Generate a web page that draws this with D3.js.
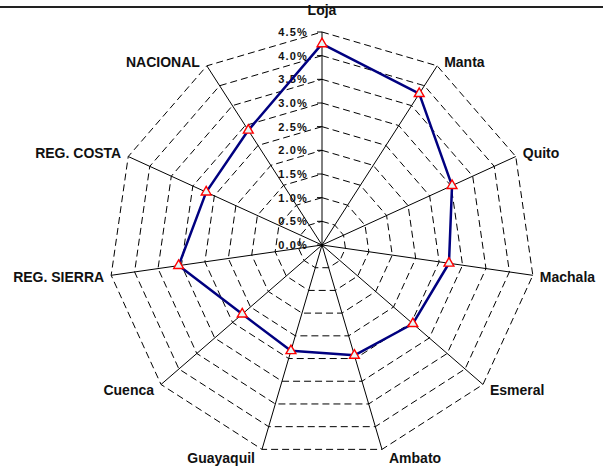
<!DOCTYPE html>
<html>
<head>
<meta charset="utf-8">
<script src="https://cdn.jsdelivr.net/npm/d3@7"></script>
<style>
  html, body { margin: 0; padding: 0; background: #fff; }
  svg { display: block; font-family: "Liberation Sans", Arial, sans-serif; }
</style>
</head>
<body>
<svg id="chart" width="603" height="466"></svg>
<script>
// Radar: one series across cities and regional aggregates
const categories = ["Loja", "Manta", "Quito", "Machala", "Esmeral", "Ambato",
                    "Guayaquil", "Cuenca", "REG. SIERRA", "REG. COSTA", "NACIONAL"];
const values = [4.25, 3.80, 3.02, 2.71, 2.54, 2.43, 2.33, 2.23, 3.06, 2.69, 2.88];
const tickValues = [0, 0.5, 1, 1.5, 2, 2.5, 3, 3.5, 4, 4.5];
const tickLabels = ["0.0%", "0.5%", "1.0%", "1.5%", "2.0%", "2.5%", "3.0%", "3.5%", "4.0%", "4.5%"];

const svg = d3.select("#chart");
const W = 603, H = 466;
const cx = 322, cy = 245, R = 213;

const r = d3.scaleLinear().domain([0, 4.5]).range([0, R]);
const angle = d3.scalePoint().domain(categories).range([0, 2 * Math.PI * (categories.length) / categories.length])
  .padding(0);
// scalePoint with full circle: use index-based step so the last point doesn't wrap onto the first
const step = 2 * Math.PI / categories.length;
const ang = c => categories.indexOf(c) * step;
const px = (c, v) => cx + Math.sin(ang(c)) * r(v);
const py = (c, v) => cy - Math.cos(ang(c)) * r(v);

// top frame line
svg.append("line")
  .attr("x1", 0).attr("x2", W).attr("y1", 7).attr("y2", 7)
  .attr("stroke", "#222").attr("stroke-width", 2);

const g = svg.append("g");

// dashed grid rings
const ring = d3.line().curve(d3.curveLinearClosed);
tickValues.slice(1).forEach(t => {
  g.append("path")
    .attr("d", ring(categories.map(c => [px(c, t), py(c, t)])))
    .attr("fill", "none")
    .attr("stroke", "#000")
    .attr("stroke-width", 1)
    .attr("stroke-dasharray", "7,4");
});

// spokes
g.selectAll("line.spoke").data(categories).join("line")
  .attr("class", "spoke")
  .attr("x1", cx).attr("y1", cy)
  .attr("x2", c => px(c, 4.5)).attr("y2", c => py(c, 4.5))
  .attr("stroke", "#000").attr("stroke-width", 1);

// value axis ticks on the first spoke
g.selectAll("line.tick").data(tickValues).join("line")
  .attr("class", "tick")
  .attr("x1", cx - 5).attr("x2", cx)
  .attr("y1", t => cy - r(t)).attr("y2", t => cy - r(t))
  .attr("stroke", "#000").attr("stroke-width", 1);

// value axis labels
g.selectAll("text.tl").data(tickValues).join("text")
  .attr("class", "tl")
  .attr("x", cx - 14)
  .attr("y", t => cy - r(t))
  .attr("dy", "0.36em")
  .attr("text-anchor", "end")
  .attr("font-size", "11px")
  .attr("font-weight", "bold")
  .attr("letter-spacing", "1.2px")
  .attr("fill", "#111")
  .text((t, i) => tickLabels[i]);

// category labels
g.selectAll("text.cat").data(categories).join("text")
  .attr("class", "cat")
  .attr("x", c => {
    const s = Math.sin(ang(c));
    const x = px(c, 4.5);
    return Math.abs(s) < 0.01 ? x : x + (s > 0 ? 7 : -7);
  })
  .attr("y", c => {
    const s = Math.sin(ang(c)), co = Math.cos(ang(c));
    const y = py(c, 4.5);
    if (Math.abs(s) < 0.01) return y - 22;
    return co > 0 ? y - 4 : y + 1 + (-co) * 7.5;
  })
  .attr("dy", "0.36em")
  .attr("text-anchor", c => {
    const s = Math.sin(ang(c));
    return Math.abs(s) < 0.01 ? "middle" : (s > 0 ? "start" : "end");
  })
  .attr("font-size", "14px")
  .attr("font-weight", "bold")
  .attr("fill", "#111")
  .text(c => c);

// series line
const pts = categories.map((c, i) => [px(c, values[i]), py(c, values[i])]);
g.append("path")
  .attr("d", ring(pts))
  .attr("fill", "none")
  .attr("stroke", "#000080")
  .attr("stroke-width", 2.5)
  .attr("stroke-linejoin", "round");

// markers
const tri = d3.symbol().type(d3.symbolTriangle).size(42);
g.selectAll("path.mk").data(pts).join("path")
  .attr("class", "mk")
  .attr("d", tri)
  .attr("transform", d => `translate(${d[0]},${d[1]})`)
  .attr("fill", "#e6f7f7")
  .attr("stroke", "#ff0000")
  .attr("stroke-width", 1.4);
</script>
</body>
</html>
